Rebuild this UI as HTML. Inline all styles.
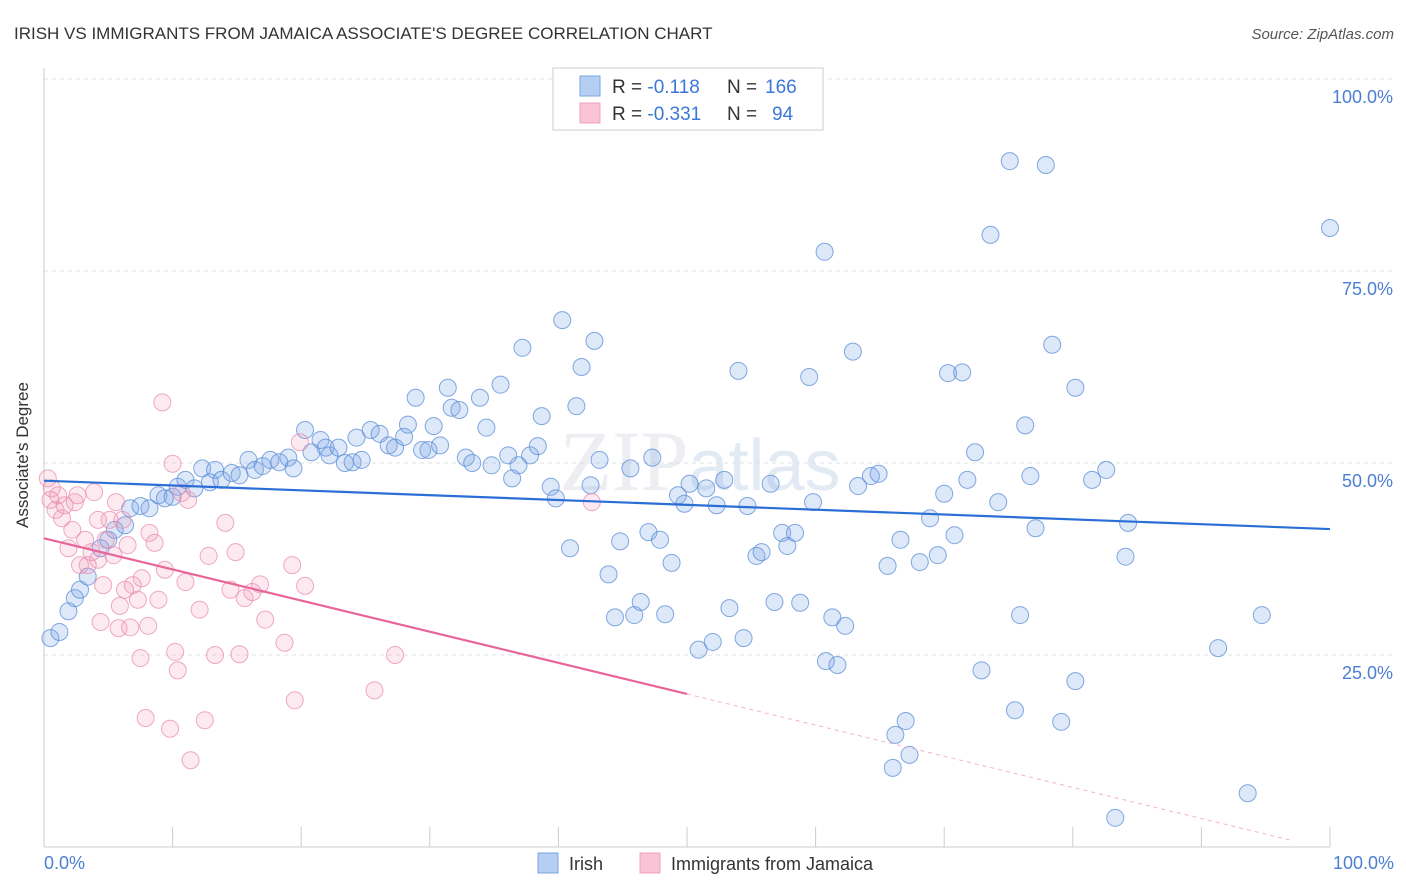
<!DOCTYPE html>
<html><head><meta charset="utf-8"><style>
body{margin:0;background:#fff;font-family:"Liberation Sans",sans-serif;}
svg{display:block}
</style></head><body>
<svg id="chart" width="1406" height="892">
<text x="14" y="39" font-size="17" fill="#333">IRISH VS IMMIGRANTS FROM JAMAICA ASSOCIATE'S DEGREE CORRELATION CHART</text>
<text x="1394" y="39" font-size="15" fill="#555" font-style="italic" text-anchor="end">Source: ZipAtlas.com</text>
<text x="700" y="490" font-size="86" fill="#eceef2" text-anchor="middle" font-family="Liberation Serif,serif">ZIP<tspan font-family="Liberation Sans,sans-serif" font-size="72" fill="#e2eaf4">atlas</tspan></text>
<g id="grid"></g>
<g id="axes"></g>
<g id="pts"></g>
<g id="lines"></g>
<text x="28" y="455" font-size="17" fill="#333" text-anchor="middle" transform="rotate(-90 28 455)">Associate's Degree</text>
<text x="44" y="869" font-size="18" fill="#4a7fd4">0.0%</text>
<text x="1394" y="869" font-size="18" fill="#4a7fd4" text-anchor="end">100.0%</text>
<g>
<rect x="553" y="68" width="270" height="62" fill="#fff" stroke="#ccc"/>
<rect x="580" y="76" width="20" height="20" fill="#b5cff2" stroke="#7aa5e0"/>
<rect x="580" y="103" width="20" height="20" fill="#f8c4d6" stroke="#f0a0be"/>
<text x="612" y="93" font-size="19" fill="#333">R =  <tspan fill="#3a78d8">-0.118</tspan><tspan x="727">N =</tspan><tspan x="765" fill="#3a78d8">166</tspan></text>
<text x="612" y="120" font-size="19" fill="#333">R =  <tspan fill="#3a78d8">-0.331</tspan><tspan x="727">N =</tspan><tspan x="772" fill="#3a78d8">94</tspan></text>
</g>
<g>
<rect x="538" y="853" width="20" height="20" fill="#b5cff2" stroke="#7aa5e0"/>
<text x="569" y="870" font-size="18" fill="#333">Irish</text>
<rect x="640" y="853" width="20" height="20" fill="#f8c4d6" stroke="#f0a0be"/>
<text x="671" y="870" font-size="18" fill="#333">Immigrants from Jamaica</text>
</g>
</svg>
<script>
const yTicks=[25,50,75,100];
const yTickLabels=["25.0%","50.0%","75.0%","100.0%"];
const xTicks=[0,10,20,30,40,50,60,70,80,90,100];
const blueX=[0.5,1.2,1.9,2.4,2.8,3.4,4.4,5.0,5.5,6.3,6.7,7.5,8.2,8.9,9.4,10.0,10.4,11.0,11.7,12.3,12.9,13.3,13.8,14.6,15.2,15.9,16.4,17.0,17.6,18.3,19.0,19.4,20.3,20.8,21.5,21.9,22.2,22.9,23.4,24.0,24.3,24.7,25.4,26.1,26.8,27.3,28.0,28.3,28.9,29.4,29.9,30.3,30.8,31.4,31.7,32.3,32.8,33.3,33.9,34.4,34.8,35.5,36.1,36.4,36.9,37.8,38.4,38.7,37.2,39.4,39.8,40.3,40.9,41.4,41.8,42.5,42.8,43.2,43.9,44.4,44.8,45.6,45.9,46.4,47.0,47.3,47.9,48.3,48.8,49.3,49.8,50.2,50.9,51.5,52.0,52.3,52.9,53.3,54.0,54.4,54.7,55.4,55.8,56.5,56.8,57.4,57.8,58.4,58.8,59.5,59.8,60.7,60.8,61.3,61.7,62.3,62.9,63.3,64.3,64.9,65.6,66.0,66.2,66.6,67.0,67.3,68.1,68.9,69.5,70.0,70.3,70.8,71.4,71.8,72.4,72.9,73.6,74.2,75.1,75.5,75.9,76.3,76.7,77.1,77.9,78.4,79.1,80.2,80.2,81.5,82.6,83.3,84.1,84.3,91.3,93.6,94.7,100];
const blueY=[27.2,28.0,30.7,32.4,33.5,35.2,38.9,40.0,41.3,41.9,44.1,44.4,44.1,45.8,45.4,45.6,46.9,47.8,46.7,49.3,47.5,49.1,47.8,48.7,48.4,50.4,49.1,49.6,50.4,50.1,50.7,49.3,54.3,51.4,53.0,52.0,51.0,52.0,50.0,50.1,53.3,50.4,54.3,53.8,52.3,52.0,53.4,55.0,58.5,51.7,51.7,54.8,52.3,59.8,57.2,56.9,50.7,50.0,58.5,54.6,49.7,60.2,51.0,48.0,49.7,51.0,52.2,56.1,65.0,46.9,45.4,68.6,38.9,57.4,62.5,47.1,65.9,50.4,35.5,29.9,39.8,49.3,30.2,31.9,41.0,50.7,40.0,30.3,37.0,45.8,44.7,47.3,25.7,46.7,26.7,44.5,47.8,31.1,62.0,27.2,44.4,37.9,38.4,47.3,31.9,40.9,39.2,40.9,31.8,61.2,44.9,77.5,24.2,29.9,23.7,28.8,64.5,47.0,48.3,48.6,36.6,10.3,14.6,40.0,16.4,12.0,37.1,42.8,38.0,46.0,61.7,40.6,61.8,47.8,51.4,23.0,79.7,44.9,89.3,17.8,30.2,54.9,48.3,41.5,88.8,65.4,16.3,59.8,21.6,47.8,49.1,3.8,37.8,42.2,25.9,7.0,30.2,80.6];
const pinkX=[0.3,0.6,0.5,0.9,1.1,1.4,1.6,1.9,2.2,2.4,2.6,2.8,3.2,3.4,3.7,3.9,4.2,4.4,4.6,4.8,5.1,5.4,5.6,5.8,5.9,6.1,6.3,6.5,6.7,6.9,7.3,7.5,7.6,7.9,8.1,8.2,8.6,8.9,9.2,9.4,9.8,10.0,10.2,10.4,10.7,11.0,11.2,11.4,12.1,12.5,12.8,13.3,14.1,14.5,14.9,15.2,15.6,16.2,16.8,17.2,18.7,19.3,19.5,19.9,20.3,25.7,27.3,42.6,4.2];
const pinkY=[48.0,46.7,45.2,43.9,45.8,42.8,44.5,38.9,41.3,44.9,45.8,36.7,40.0,36.7,38.4,46.2,37.4,29.3,34.1,40.0,42.6,38.0,44.9,28.5,31.4,42.6,33.5,39.3,28.6,34.1,32.2,24.6,35.0,16.8,28.8,40.9,39.6,32.2,57.9,36.1,15.4,49.9,25.4,23.0,46.1,34.5,45.2,11.3,30.9,16.5,37.9,25.0,42.2,33.5,38.4,25.1,32.4,33.2,34.2,29.6,26.6,36.7,19.1,52.7,34.0,20.4,25.0,44.9,42.6];
const blueTrend=[47.7,41.4];
const pinkTrend=[40.2,-0.35];
const pinkSolidEnd=50;
const X=v=>44+v*12.86, Y=v=>847-v*7.68;
const NS="http://www.w3.org/2000/svg";
function mk(t,a,p){const e=document.createElementNS(NS,t);for(const k in a)e.setAttribute(k,a[k]);p.appendChild(e);return e;}
const grid=document.getElementById('grid'),axes=document.getElementById('axes'),pts=document.getElementById('pts'),lines=document.getElementById('lines');
yTicks.forEach((t,i)=>{
 const g=mk('line',{x1:44,x2:1394,y1:Y(t),y2:Y(t),stroke:'#dde1e6','stroke-dasharray':'4,4'},grid);
 
 
 const tx=mk('text',{x:1393,y:Y(t)+24,'font-size':18,fill:'#4a7fd4','text-anchor':'end'},grid);
 tx.textContent=yTickLabels[i];
 
 
});
const ax=mk('line',{x1:44,x2:44,y1:68,y2:847,stroke:'#ccc'},axes);


const bx=mk('line',{x1:44,x2:1330,y1:847,y2:847,stroke:'#ccc'},axes);


xTicks.forEach(t=>{
 const l=mk('line',{x1:X(t),x2:X(t),y1:827,y2:847,stroke:'#ccc'},axes);
 
 
});
blueX.forEach((v,i)=>{
 const c=mk('circle',{cx:X(v),cy:Y(blueY[i]),r:8.5,fill:'rgba(120,165,230,0.25)',stroke:'rgba(90,140,215,0.75)','stroke-width':1},pts);
 
 
});
pinkX.forEach((v,i)=>{
 const c=mk('circle',{cx:X(v),cy:Y(pinkY[i]),r:8.5,fill:'rgba(240,150,180,0.2)',stroke:'rgba(235,140,175,0.75)','stroke-width':1},pts);
 
 
});
const bl=mk('line',{x1:X(0),y1:Y(blueTrend[0]),x2:X(100),y2:Y(blueTrend[1]),stroke:'#2b6fd6','stroke-width':2.2},lines);


const pAt=v=>pinkTrend[0]+(pinkTrend[1]-pinkTrend[0])*v/100;
const pl=mk('line',{x1:X(0),y1:Y(pAt(0)),x2:X(pinkSolidEnd),y2:Y(pAt(pinkSolidEnd)),stroke:'#e8659a','stroke-width':2.2},lines);


const pd=mk('line',{x1:X(pinkSolidEnd),y1:Y(pAt(pinkSolidEnd)),x2:X(97),y2:Y(pAt(97)),stroke:'#f4b4cb','stroke-width':1,'stroke-dasharray':'4,4'},lines);


</script>
</body></html>
